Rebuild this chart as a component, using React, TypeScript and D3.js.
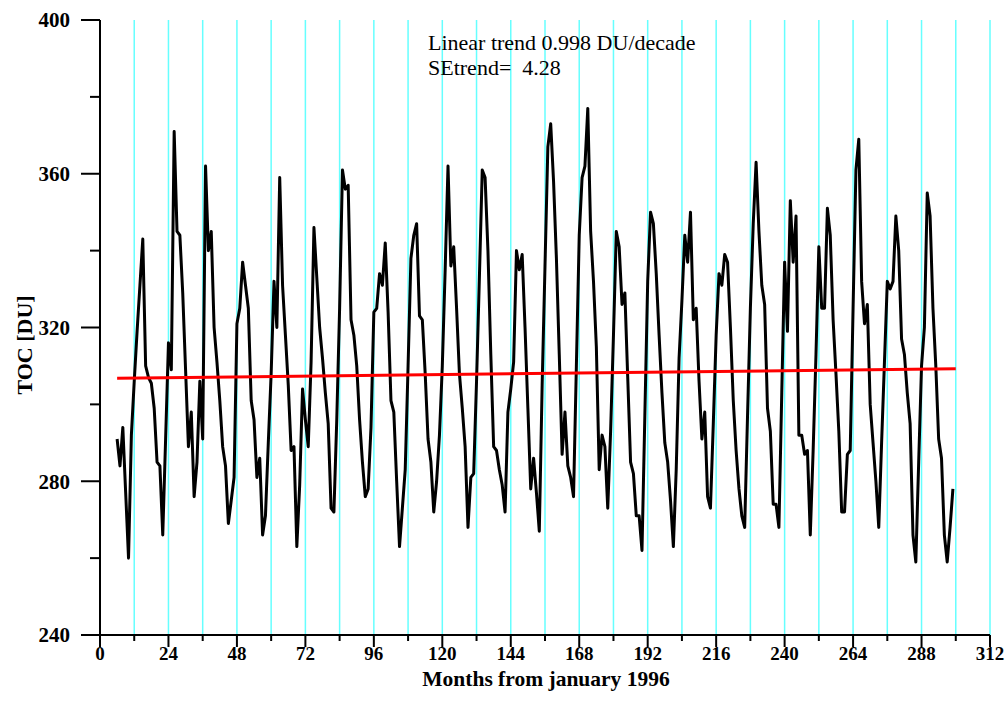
import React from "react";
import * as d3 from "d3";

const startMonth = 6;
const tocValues: number[] = [
  291, 284, 294, 277, 260, 292, 306, 319, 331, 343,
  310, 307, 305.5, 299, 285, 284, 266, 291, 316, 309,
  371, 345, 344, 329, 309, 289, 298, 276, 285, 306,
  291, 362, 340, 345, 320, 311, 301, 289, 284, 269,
  275, 281, 321, 325, 337, 331, 325, 301, 296, 281,
  286, 266, 271, 290, 308, 332, 320, 359, 331, 318,
  305, 288, 289, 263, 279, 304, 296, 289, 311, 346,
  333, 320, 312, 303, 295, 273, 272, 296, 325, 361,
  356, 357, 322, 318, 310, 296, 285, 276, 278, 294,
  324, 325, 334, 331, 342, 324, 301, 298, 280, 263,
  273, 283, 310, 338, 344, 347, 323, 322, 308, 291,
  285, 272, 280, 292, 310, 335, 362, 336, 341, 325,
  308, 299, 289, 268, 281, 282, 306, 333, 361, 359,
  340, 313, 289, 288, 283, 279, 272, 298, 304, 311,
  340, 335, 339, 320, 299, 278, 286, 277, 267, 305,
  336, 367, 373, 358, 338, 313, 287, 298, 284, 281,
  276, 310, 344, 359, 362, 377, 345, 332, 315, 283,
  292, 289, 273, 293, 318, 345, 341, 326, 329, 307,
  285, 282, 271, 271, 262, 297, 332, 350, 347, 334,
  318, 303, 290, 285, 275, 263, 283, 312, 327, 344,
  337, 350, 322, 325, 306, 291, 298, 276, 273, 295,
  318, 334, 331, 339, 337, 320, 301, 288, 278, 271,
  268, 297, 325, 347, 363, 345, 331, 326, 299, 293,
  274, 274, 268, 303, 337, 319, 353, 337, 349, 292,
  292, 287, 288, 266, 288, 313, 341, 325, 325, 351,
  344, 322, 308, 293, 272, 272, 287, 288, 325, 361,
  369, 332, 321, 326, 300, 290, 280, 268, 290, 311,
  332, 330, 332, 349, 340, 317, 313, 303, 295, 266,
  259, 285, 310, 320, 355, 349, 325, 310, 291, 286,
  266, 259, 268, 278,
];

const xTickLabels = [0, 24, 48, 72, 96, 120, 144, 168, 192, 216, 240, 264, 288, 312];
const yTickLabels = [240, 280, 320, 360, 400];
const trendPerDecade = 0.998;
const trendStartValue = 306.8;
const seTrend = "4.28";

const W = 1008, H = 715;
const L = 100, R = 990, T = 20, B = 635;

export default function App() {
  const x = d3.scaleLinear().domain([0, 312]).range([L, R]);
  const y = d3.scaleLinear().domain([240, 400]).range([B, T]);
  const pts = tocValues.map((v, i) => [startMonth + i, v] as [number, number]);
  const line = d3.line<[number, number]>().x(d => x(d[0])).y(d => y(d[1]));
  const lastMonth = startMonth + tocValues.length - 1;
  const trendAt = (m: number) => trendStartValue + (trendPerDecade / 120) * (m - startMonth);
  const grid = d3.range(12, 313, 12);
  const minorY = d3.range(260, 400, 40);
  const minorX = d3.range(12, 313, 24);
  const font = "'Liberation Serif', 'Times New Roman', serif";
  return (
    <svg width={W} height={H} style={{ position: "absolute", left: 0, top: 0, background: "#fff" }} fontFamily={font}>
      <rect width={W} height={H} fill="#fff" />
      {grid.map(m => (
        <line key={"g" + m} x1={x(m)} x2={x(m)} y1={T} y2={B} stroke="#66ffff" strokeWidth={1.5} />
      ))}
      <path d={line(pts) || ""} fill="none" stroke="#000" strokeWidth={3} strokeLinejoin="round" />
      <line x1={x(startMonth)} x2={x(lastMonth + 1)} y1={y(trendAt(startMonth))} y2={y(trendAt(lastMonth + 1))} stroke="#ff0000" strokeWidth={3} />
      <line x1={L} x2={L} y1={T} y2={B} stroke="#000" strokeWidth={2} />
      <line x1={L} x2={R} y1={B} y2={B} stroke="#000" strokeWidth={2} />
      {yTickLabels.map(v => (
        <g key={"y" + v}>
          <line x1={L - 19} x2={L} y1={y(v)} y2={y(v)} stroke="#000" strokeWidth={2} />
          <text x={70} y={y(v)} dy="0.35em" textAnchor="end" fontSize={21} fontWeight="bold">{v}</text>
        </g>
      ))}
      {minorY.map(v => (
        <line key={"my" + v} x1={L - 10} x2={L} y1={y(v)} y2={y(v)} stroke="#000" strokeWidth={2} />
      ))}
      {xTickLabels.map(v => (
        <g key={"x" + v}>
          <line x1={x(v)} x2={x(v)} y1={B} y2={B + 12} stroke="#000" strokeWidth={2} />
          <text x={x(v)} y={660} textAnchor="middle" fontSize={19} fontWeight="bold">{v}</text>
        </g>
      ))}
      {minorX.map(v => (
        <line key={"mx" + v} x1={x(v)} x2={x(v)} y1={B} y2={B + 6} stroke="#000" strokeWidth={2} />
      ))}
      <text x={546} y={686} textAnchor="middle" fontSize={21.5} fontWeight="bold">Months from january 1996</text>
      <text transform={`translate(32,345) rotate(-90)`} textAnchor="middle" fontSize={22} fontWeight="bold">TOC [DU]</text>
      <text x={428} y={50} fontSize={22}>Linear trend {trendPerDecade.toFixed(3)} DU/decade</text>
      <text x={428} y={75} fontSize={22} style={{ whiteSpace: "pre" }}>{"SEtrend=  " + seTrend}</text>
    </svg>
  );
}
